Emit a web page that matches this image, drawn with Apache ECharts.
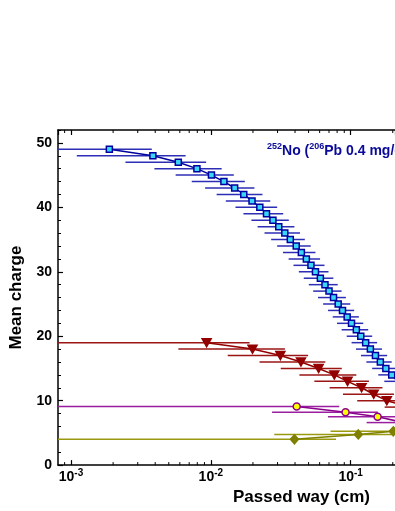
<!DOCTYPE html>
<html>
<head>
<meta charset="utf-8">
<script src="https://cdn.jsdelivr.net/npm/echarts@6/dist/echarts.min.js"></script>
<style>html,body{margin:0;padding:0;background:#fff}#c{width:395px;height:511px}</style>
</head>
<body>
<div id="c"></div>
<script>
// ---- data ----
const blueY = [49,48,47,46,45,44,43,42,41,40,39,38,37,36,35,34,33,32,31,30,29,28,27,26,25,24,23,22,21,20,19,18,17,16,15,14,13];
const blueX = [0.00188,0.00385,0.00585,0.00795,0.0101,0.0124,0.0148,0.0172,0.0197,0.0224,0.0250,0.0278,0.0306,0.0338,0.0370,0.0408,0.0444,0.0482,0.0520,0.0560,0.0607,0.0655,0.0700,0.0754,0.0814,0.0874,0.0944,0.1014,0.1098,0.1181,0.1280,0.1383,0.1504,0.1630,0.1785,0.1966,0.216];
const blueErr = [0.0019,0.00275,0.0034,0.0040,0.0045,0.0051,0.0057,0.0062,0.0069,0.0074,0.0079,0.0083,0.0090,0.0096,0.0100,0.0110,0.0116,0.0122,0.0130,0.0134,0.0145,0.0153,0.0161,0.0170,0.0179,0.0185,0.0200,0.0216,0.0236,0.0244,0.0265,0.0291,0.0320,0.0335,0.0360,0.0390,0.0420];

const redY = [19,18,17,16,15,14,13,12,11,10,9];
const redX = [0.00933,0.01986,0.0314,0.0441,0.0590,0.0764,0.0950,0.1197,0.1461,0.1814,0.26];
const redErr = [0.0096,0.0140,0.0182,0.0218,0.0274,0.0334,0.040,0.049,0.058,0.070,0.085];

const purpleY = [9.1,8.2,7.5,6.6];
const purpleX = [0.0411,0.0919,0.1558,0.24];
const purpleErr = [0.0418,0.0645,0.087,0.11];

const oliveY = [4.0,4.75,5.25];
const oliveX = [0.0396,0.1134,0.2018];
const oliveErr = [0.039,0.085,0.13];

const yMajorTicks = [0,10,20,30,40,50];

// ---- chart ----
const X_MIN = 8.07e-4, X_MAX = 0.2075, Y_MIN = 0, Y_MAX = 52;
const FONT = '"Liberation Sans", Arial, Helvetica, sans-serif';
const chart = echarts.init(document.getElementById('c'), null, {renderer: 'canvas'});

function errSeries(xs, ys, es, color, z) {
  return {
    type: 'custom', silent: true, z: z, animation: false,
    data: xs.map((x, i) => [x, ys[i], es[i]]),
    encode: {x: 0, y: 1},
    renderItem: function (params, api) {
      const x = api.value(0), y = api.value(1), e = api.value(2);
      const lo = Math.max(x - e, X_MIN), hi = Math.min(x + e, X_MAX);
      if (lo >= X_MAX) return null;
      const p0 = api.coord([lo, y]), p1 = api.coord([hi, y]);
      return {type: 'line', shape: {x1: p0[0], y1: p0[1], x2: p1[0], y2: p1[1]},
        style: {stroke: color, lineWidth: 1.5}};
    }
  };
}
function lineSeries(xs, ys, color, sym, size, fill, rotate, z) {
  return {
    type: 'line', z: z, animation: false, silent: true, clip: true,
    data: xs.map((x, i) => [x, ys[i]]),
    symbol: sym, symbolSize: size, symbolRotate: rotate || 0, showAllSymbol: true,
    lineStyle: {color: color, width: 1.5},
    itemStyle: {color: fill, borderColor: color, borderWidth: 1.5}
  };
}

const minorTicks = [];
for (let k = -4; k <= 0; k++) {
  for (let m = 2; m <= 9; m++) {
    const v = m * Math.pow(10, k);
    if (v > X_MIN && v < X_MAX) minorTicks.push([v, 0]);
  }
}

const labelRich = {
  b: {fontFamily: FONT, fontSize: 14, fontWeight: 'bold', color: '#000', lineHeight: 18, verticalAlign: 'middle'},
  s: {fontFamily: FONT, fontSize: 10, fontWeight: 'bold', color: '#000', lineHeight: 18, verticalAlign: 'top'}
};

const option = {
  animation: false,
  backgroundColor: '#fff',
  title: {
    text: '{s|252}{n|No (}{s|206}{n|Pb 0.4 mg/cm}{s|2}{n|)}',
    left: 267, top: 142, padding: 0,
    textStyle: {
      rich: {
        n: {fontFamily: FONT, fontSize: 14, fontWeight: 'bold', color: '#0a0a9a', lineHeight: 18, verticalAlign: 'middle'},
        s: {fontFamily: FONT, fontSize: 9, fontWeight: 'bold', color: '#0a0a9a', lineHeight: 18, verticalAlign: 'top'}
      }
    }
  },
  grid: {left: 52, right: 0, top: 130, bottom: 43},
  xAxis: [
    {
      type: 'log', logBase: 10, min: X_MIN, max: X_MAX, position: 'bottom',
      name: 'Passed way (cm)', nameLocation: 'middle', nameGap: 20,
      nameTextStyle: {fontFamily: FONT, fontSize: 17, fontWeight: 'bold', color: '#000', padding: [0, 0, 0, 150]},
      axisLine: {show: true, onZero: false, lineStyle: {color: '#000', width: 1.5}},
      axisTick: {show: true, inside: true, length: 5, lineStyle: {color: '#000', width: 1.2}},
      splitLine: {show: false},
      axisLabel: {
        show: true, margin: 3, showMinLabel: false, showMaxLabel: false,
        formatter: function (v) {
          const e = Math.log10(v), r = Math.round(e);
          if (Math.abs(e - r) > 1e-6) return '';
          return '{b|10}{s|' + r + '}';
        },
        rich: labelRich
      }
    },
    {
      type: 'log', logBase: 10, min: X_MIN, max: X_MAX, position: 'top',
      axisLine: {show: true, onZero: false, lineStyle: {color: '#000', width: 1.5}},
      axisTick: {show: true, inside: true, length: 5, lineStyle: {color: '#000', width: 1.2}},
      axisLabel: {show: false}, splitLine: {show: false}
    }
  ],
  yAxis: [
    {
      type: 'value', min: Y_MIN, max: Y_MAX, interval: 10, position: 'left',
      name: 'Mean charge', nameLocation: 'middle', nameGap: 33,
      nameTextStyle: {fontFamily: FONT, fontSize: 17, fontWeight: 'bold', color: '#000'},
      axisLine: {show: true, onZero: false, lineStyle: {color: '#000', width: 1.5}},
      axisTick: {show: true, inside: true, length: 5, lineStyle: {color: '#000', width: 1.2}},
      splitLine: {show: false},
      axisLabel: {
        show: true, margin: 6, showMaxLabel: false,
        fontFamily: FONT, fontSize: 14, fontWeight: 'bold', color: '#000',
        formatter: function (v) { return yMajorTicks.indexOf(v) >= 0 ? String(v) : ''; }
      }
    },
    {
      type: 'value', min: Y_MIN, max: Y_MAX, interval: 2, position: 'left',
      axisLine: {show: false, onZero: false},
      axisTick: {show: true, inside: true, length: 3, lineStyle: {color: '#000', width: 1}},
      axisLabel: {show: false}, splitLine: {show: false}
    }
  ],
  series: [
    {
      type: 'custom', silent: true, z: 10, animation: false,
      data: minorTicks, encode: {x: 0, y: 1},
      renderItem: function (params, api) {
        const v = api.value(0);
        const b = api.coord([v, Y_MIN]), t = api.coord([v, Y_MAX]);
        return {type: 'group', children: [
          {type: 'line', shape: {x1: b[0], y1: b[1], x2: b[0], y2: b[1] - 3}, style: {stroke: '#000', lineWidth: 1}},
          {type: 'line', shape: {x1: t[0], y1: t[1], x2: t[0], y2: t[1] + 3}, style: {stroke: '#000', lineWidth: 1}}
        ]};
      }
    },
    errSeries(oliveX, oliveY, oliveErr, '#9a9a10', 2),
    errSeries(purpleX, purpleY, purpleErr, '#9a1fa0', 2),
    errSeries(redX, redY, redErr, '#9b1515', 2),
    errSeries(blueX, blueY, blueErr, '#2d2db5', 2),
    lineSeries(oliveX, oliveY, '#7f7f00', 'diamond', [8, 9], '#7f7f00', 0, 4),
    lineSeries(purpleX, purpleY, '#8b008b', 'circle', 7, '#ffff00', 0, 4),
    lineSeries(redX, redY, '#920000', 'triangle', [9, 8], '#920000', 180, 4),
    lineSeries(blueX, blueY, '#0000a0', 'rect', 6, '#3ad6f5', 0, 5)
  ]
};
chart.setOption(option);
</script>
</body>
</html>
